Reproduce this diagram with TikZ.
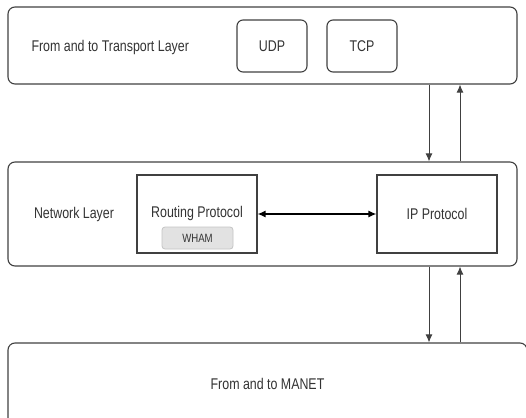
\documentclass[tikz,border=0pt]{standalone}
\usepackage{fontspec}
\setmainfont{Liberation Sans}[FakeStretch=0.8]
\usetikzlibrary{arrows.meta}
\usetikzlibrary{positioning}

\definecolor{linegray}{HTML}{404040}
\definecolor{textgray}{HTML}{333333}
\definecolor{whamfill}{HTML}{E2E2E2}
\definecolor{whamline}{HTML}{C4C4C4}

\begin{document}
\begin{tikzpicture}[
    x=1pt, y=-1pt,
    font=\fontsize{15.5}{17}\selectfont,
    text=textgray
]
\tikzset{
    layer/.style = {draw=linegray, line width=1.1pt, rounded corners=7pt, inner sep=0pt},
    proto/.style = {draw=linegray, line width=1.1pt, rounded corners=6pt, minimum width=70pt, minimum height=52pt},
    block/.style = {draw=linegray, line width=1.1pt, minimum width=120pt, minimum height=78pt},
    tag/.style = {draw=whamline, fill=whamfill, line width=0.8pt, rounded corners=3pt,
                  minimum width=71pt, minimum height=22pt, font=\fontsize{12}{14}\selectfont},
    edger/.style = {-{Latex[length=8pt,width=7pt]}, line width=1pt, draw=linegray},
    edgeb/.style = {{Latex[length=8pt,width=7pt]}-{Latex[length=8pt,width=7pt]}, line width=1.3pt, draw=black}
}
\useasboundingbox (0,0) rectangle (526,417);
\clip (0,0) rectangle (526,417);

% transport layer
\node[layer, minimum width=509pt, minimum height=77pt] at (262.5,45.5) (transport) {};
\node[anchor=west] at (28,47) (ttext) {From and to Transport Layer};
\node[proto] at (272,46) (udp) {UDP};
\node[proto] at (362,46) (tcp) {TCP};

% network layer
\node[layer, minimum width=509pt, minimum height=104pt] at (262.5,214) (network) {};
\node at (74,214) (ntext) {Network Layer};
\node[block] at (197,214) (routing) {};
\node at (197,213) (rtext) {Routing Protocol};
\node[tag] at (197.5,238) (wham) {WHAM};
\node[block] at (437,214) (ip) {IP Protocol};

% manet
\node[layer, minimum width=519pt, minimum height=82pt] at (267.5,384) (manet) {From and to MANET};

% connectors
\coordinate (dn) at (429,0);
\coordinate (up) at (460,0);
\draw[edger] (transport.south -| dn) -- (network.north -| dn);
\draw[edger] (network.north -| up) -- (transport.south -| up);
\draw[edger] (network.south -| dn) -- (manet.north -| dn);
\draw[edger] (manet.north -| up) -- (network.south -| up);
\draw[edgeb] (routing.east) -- (ip.west);
\end{tikzpicture}
\end{document}
